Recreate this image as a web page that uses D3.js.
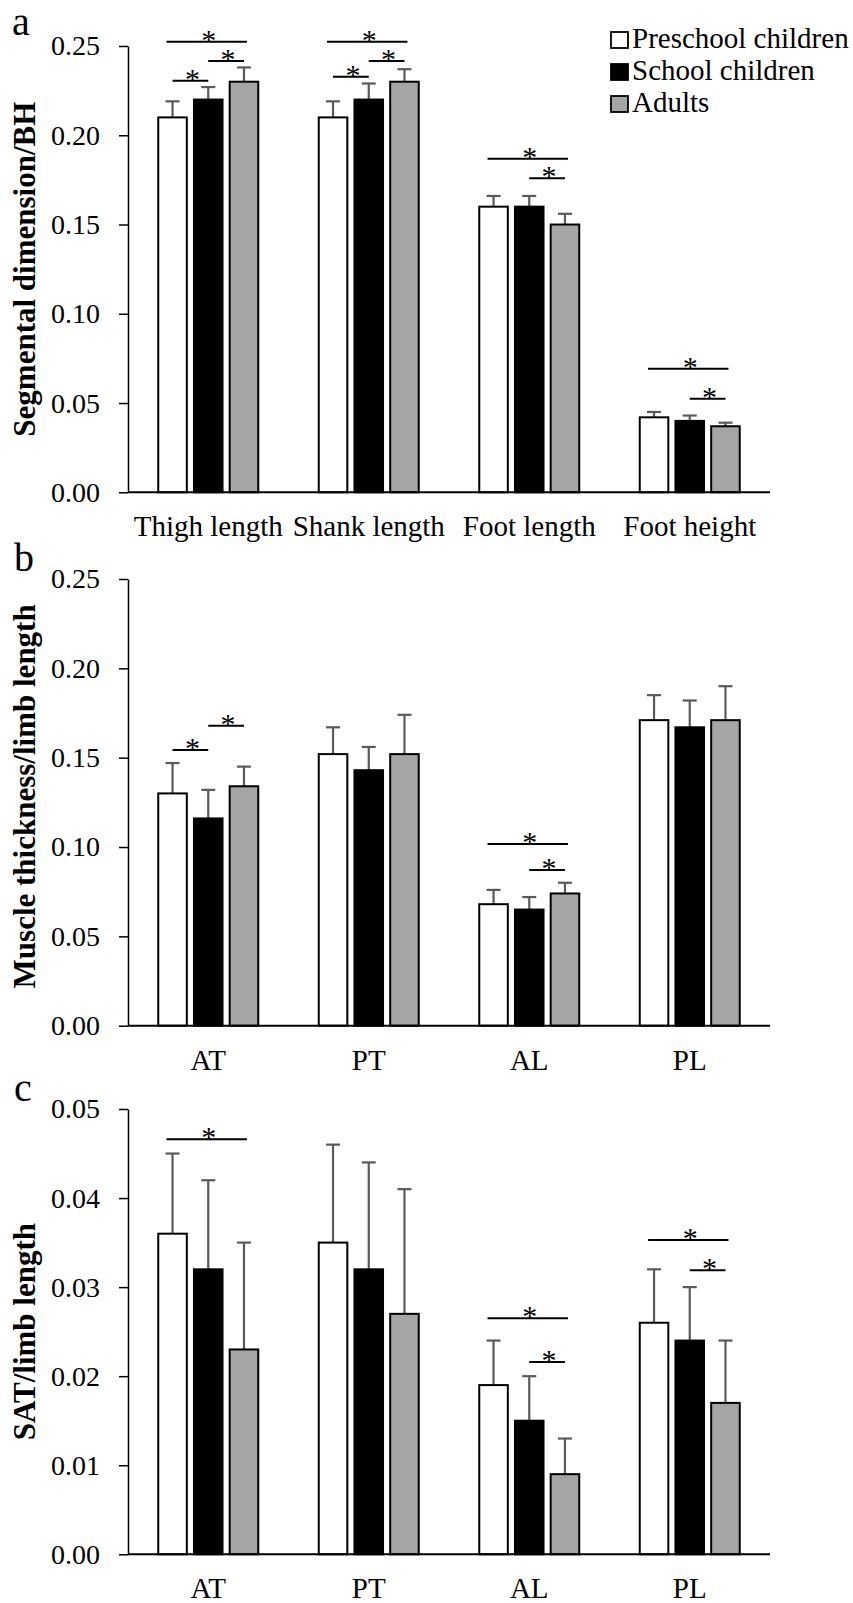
<!DOCTYPE html>
<html>
<head>
<meta charset="utf-8">
<script src="https://cdn.jsdelivr.net/npm/d3@7"></script>
<style>
  html, body { margin: 0; padding: 0; background: #fff; }
  svg { display: block; }
  text { font-family: "Liberation Serif", "Times New Roman", Times, serif; fill: #000; }
</style>
</head>
<body>
<svg id="chart" width="853" height="1603"></svg>
<script>
// ---------------- DATA ----------------
const groups = ["Preschool children", "School children", "Adults"];

// Panel a
const catsA = ["Thigh length", "Shank length", "Foot length", "Foot height"];
const preschoolA = [0.210, 0.210, 0.160, 0.042];
const schoolA    = [0.220, 0.220, 0.160, 0.040];
const adultsA    = [0.230, 0.230, 0.150, 0.037];
const preschoolErrA = [0.009, 0.009, 0.006, 0.003];
const schoolErrA    = [0.007, 0.009, 0.006, 0.003];
const adultsErrA    = [0.008, 0.007, 0.006, 0.002];
const ticksA = [0.00, 0.05, 0.10, 0.15, 0.20, 0.25];
// [category index, from group, to group, bracket level]
const sigA = [[0,0,2,0.2524],[0,0,1,0.2306],[0,1,2,0.2416],
              [1,0,2,0.2524],[1,0,1,0.2328],[1,1,2,0.2416],
              [2,0,2,0.1869],[2,1,2,0.1759],
              [3,0,2,0.0692],[3,1,2,0.0524]];

// Panel b
const catsB = ["AT", "PT", "AL", "PL"];
const preschoolB = [0.130, 0.152, 0.068, 0.171];
const schoolB    = [0.116, 0.143, 0.065, 0.167];
const adultsB    = [0.134, 0.152, 0.074, 0.171];
const preschoolErrB = [0.017, 0.015, 0.008, 0.014];
const schoolErrB    = [0.016, 0.013, 0.007, 0.015];
const adultsErrB    = [0.011, 0.022, 0.006, 0.019];
const ticksB = [0.00, 0.05, 0.10, 0.15, 0.20, 0.25];
const sigB = [[0,0,1,0.1543],[0,1,2,0.1679],[2,0,2,0.1017],[2,1,2,0.0871]];

// Panel c
const catsC = ["AT", "PT", "AL", "PL"];
const preschoolC = [0.036, 0.035, 0.019, 0.026];
const schoolC    = [0.032, 0.032, 0.015, 0.024];
const adultsC    = [0.023, 0.027, 0.009, 0.017];
const preschoolErrC = [0.009, 0.011, 0.005, 0.006];
const schoolErrC    = [0.010, 0.012, 0.005, 0.006];
const adultsErrC    = [0.012, 0.014, 0.004, 0.007];
const ticksC = [0.00, 0.01, 0.02, 0.03, 0.04, 0.05];
const sigC = [[0,0,2,0.0466],[2,0,2,0.0265],[2,1,2,0.0216],[3,0,2,0.0353],[3,1,2,0.0319]];

// ---------------- STYLE / LAYOUT ----------------
const fills = ["#ffffff", "#000000", "#a5a5a5"];
const errColor = "#5a5a5a";
const svg = d3.select("#chart");
svg.append("rect").attr("width", 853).attr("height", 1603).attr("fill", "#fff");

const left = 128, right = 770;

const panels = [
  { label: "a", title: "Segmental dimension/BH", cats: catsA, vals: [preschoolA, schoolA, adultsA],
    errs: [preschoolErrA, schoolErrA, adultsErrA], ticks: ticksA, sig: sigA, top: 46, bottom: 492.3,
    labelY: 35, labelX: 12, titleShift: 0 },
  { label: "b", title: "Muscle thickness/limb length", cats: catsB, vals: [preschoolB, schoolB, adultsB],
    errs: [preschoolErrB, schoolErrB, adultsErrB], ticks: ticksB, sig: sigB, top: 579, bottom: 1025.7,
    labelY: 571, labelX: 14, titleShift: -6 },
  { label: "c", title: "SAT/limb length", cats: catsC, vals: [preschoolC, schoolC, adultsC],
    errs: [preschoolErrC, schoolErrC, adultsErrC], ticks: ticksC, sig: sigC, top: 1109, bottom: 1554.3,
    labelY: 1101, labelX: 14, titleShift: 0 }
];

panels.forEach(p => {
  const g = svg.append("g");
  const y = d3.scaleLinear().domain([p.ticks[0], p.ticks[p.ticks.length - 1]]).range([p.bottom, p.top]);
  const x0 = d3.scaleBand().domain(d3.range(p.cats.length)).range([left, right]).padding(0);
  const innerW = x0.bandwidth() * 0.623;
  const x1 = d3.scaleBand().domain([0, 1, 2]).range([-innerW / 2, innerW / 2]).paddingInner(0.2).paddingOuter(0);
  const cx = (c, k) => x0(c) + x0.bandwidth() / 2 + x1(k) + x1.bandwidth() / 2;

  // y axis
  const yAxis = d3.axisLeft(y).tickValues(p.ticks).tickFormat(d3.format(".2f")).tickSize(9).tickSizeOuter(0).tickPadding(19);
  const ya = g.append("g").attr("transform", `translate(${left},0)`).call(yAxis);
  ya.select(".domain").attr("stroke", "#000").attr("stroke-width", 1.5);
  ya.selectAll(".tick line").attr("stroke", "#000").attr("stroke-width", 1.5);
  ya.selectAll(".tick text").attr("font-size", 28).attr("font-family", "Liberation Serif, Times New Roman, serif").attr("fill", "#000");

  // bars
  p.cats.forEach((c, ci) => {
    [0, 1, 2].forEach(k => {
      const v = p.vals[k][ci];
      const e = p.errs[k][ci];
      const xc = cx(ci, k);
      // error bar (upper only)
      g.append("line").attr("x1", xc).attr("x2", xc).attr("y1", y(v)).attr("y2", y(v + e))
        .attr("stroke", errColor).attr("stroke-width", 2.2);
      g.append("line").attr("x1", xc - 7).attr("x2", xc + 7).attr("y1", y(v + e)).attr("y2", y(v + e))
        .attr("stroke", errColor).attr("stroke-width", 2.2);
      g.append("rect").attr("x", xc - x1.bandwidth() / 2).attr("y", y(v))
        .attr("width", x1.bandwidth()).attr("height", y(0) - y(v))
        .attr("fill", fills[k]).attr("stroke", "#000").attr("stroke-width", 2);
    });
  });

  // x axis line
  g.append("line").attr("x1", left).attr("x2", right).attr("y1", y(0)).attr("y2", y(0))
    .attr("stroke", "#000").attr("stroke-width", 2);

  // category labels
  const xAxis = d3.axisBottom(x0).tickFormat(i => p.cats[i]).tickSize(0).tickSizeOuter(0);
  const xa = g.append("g").attr("transform", `translate(0,${y(0)})`).call(xAxis);
  xa.select(".domain").remove();
  xa.selectAll(".tick text").attr("font-size", 29).attr("font-family", "Liberation Serif, Times New Roman, serif")
    .attr("fill", "#000").attr("y", 44).attr("dy", 0);

  // significance brackets
  p.sig.forEach(([ci, a, b, lvl]) => {
    const span = b - a - 1;
    const xs = cx(ci, a) - span * 6;
    const xe = cx(ci, b) + span * 3;
    const yy = y(lvl);
    g.append("line").attr("x1", xs).attr("x2", xe).attr("y1", yy).attr("y2", yy)
      .attr("stroke", "#000").attr("stroke-width", 2);
    g.append("text").attr("x", (xs + xe) / 2 + 2).attr("y", yy + 8).attr("text-anchor", "middle")
      .attr("font-size", 30).text("*");
  });

  // y axis title
  g.append("text").attr("transform", `translate(35,${(p.top + p.bottom) / 2 + p.titleShift}) rotate(-90)`)
    .attr("text-anchor", "middle").attr("font-size", 31).attr("font-weight", "bold").text(p.title);

  // panel label
  g.append("text").attr("x", p.labelX).attr("y", p.labelY).attr("font-size", 40).text(p.label);
});

// legend
const legend = svg.append("g");
groups.forEach((name, k) => {
  const base = 48 + k * 32;
  legend.append("rect").attr("x", 611).attr("y", base - 16).attr("width", 17).attr("height", 16)
    .attr("fill", fills[k]).attr("stroke", "#000").attr("stroke-width", 1.8);
  legend.append("text").attr("x", 632).attr("y", base).attr("font-size", 29).text(name);
});
</script>
</body>
</html>
